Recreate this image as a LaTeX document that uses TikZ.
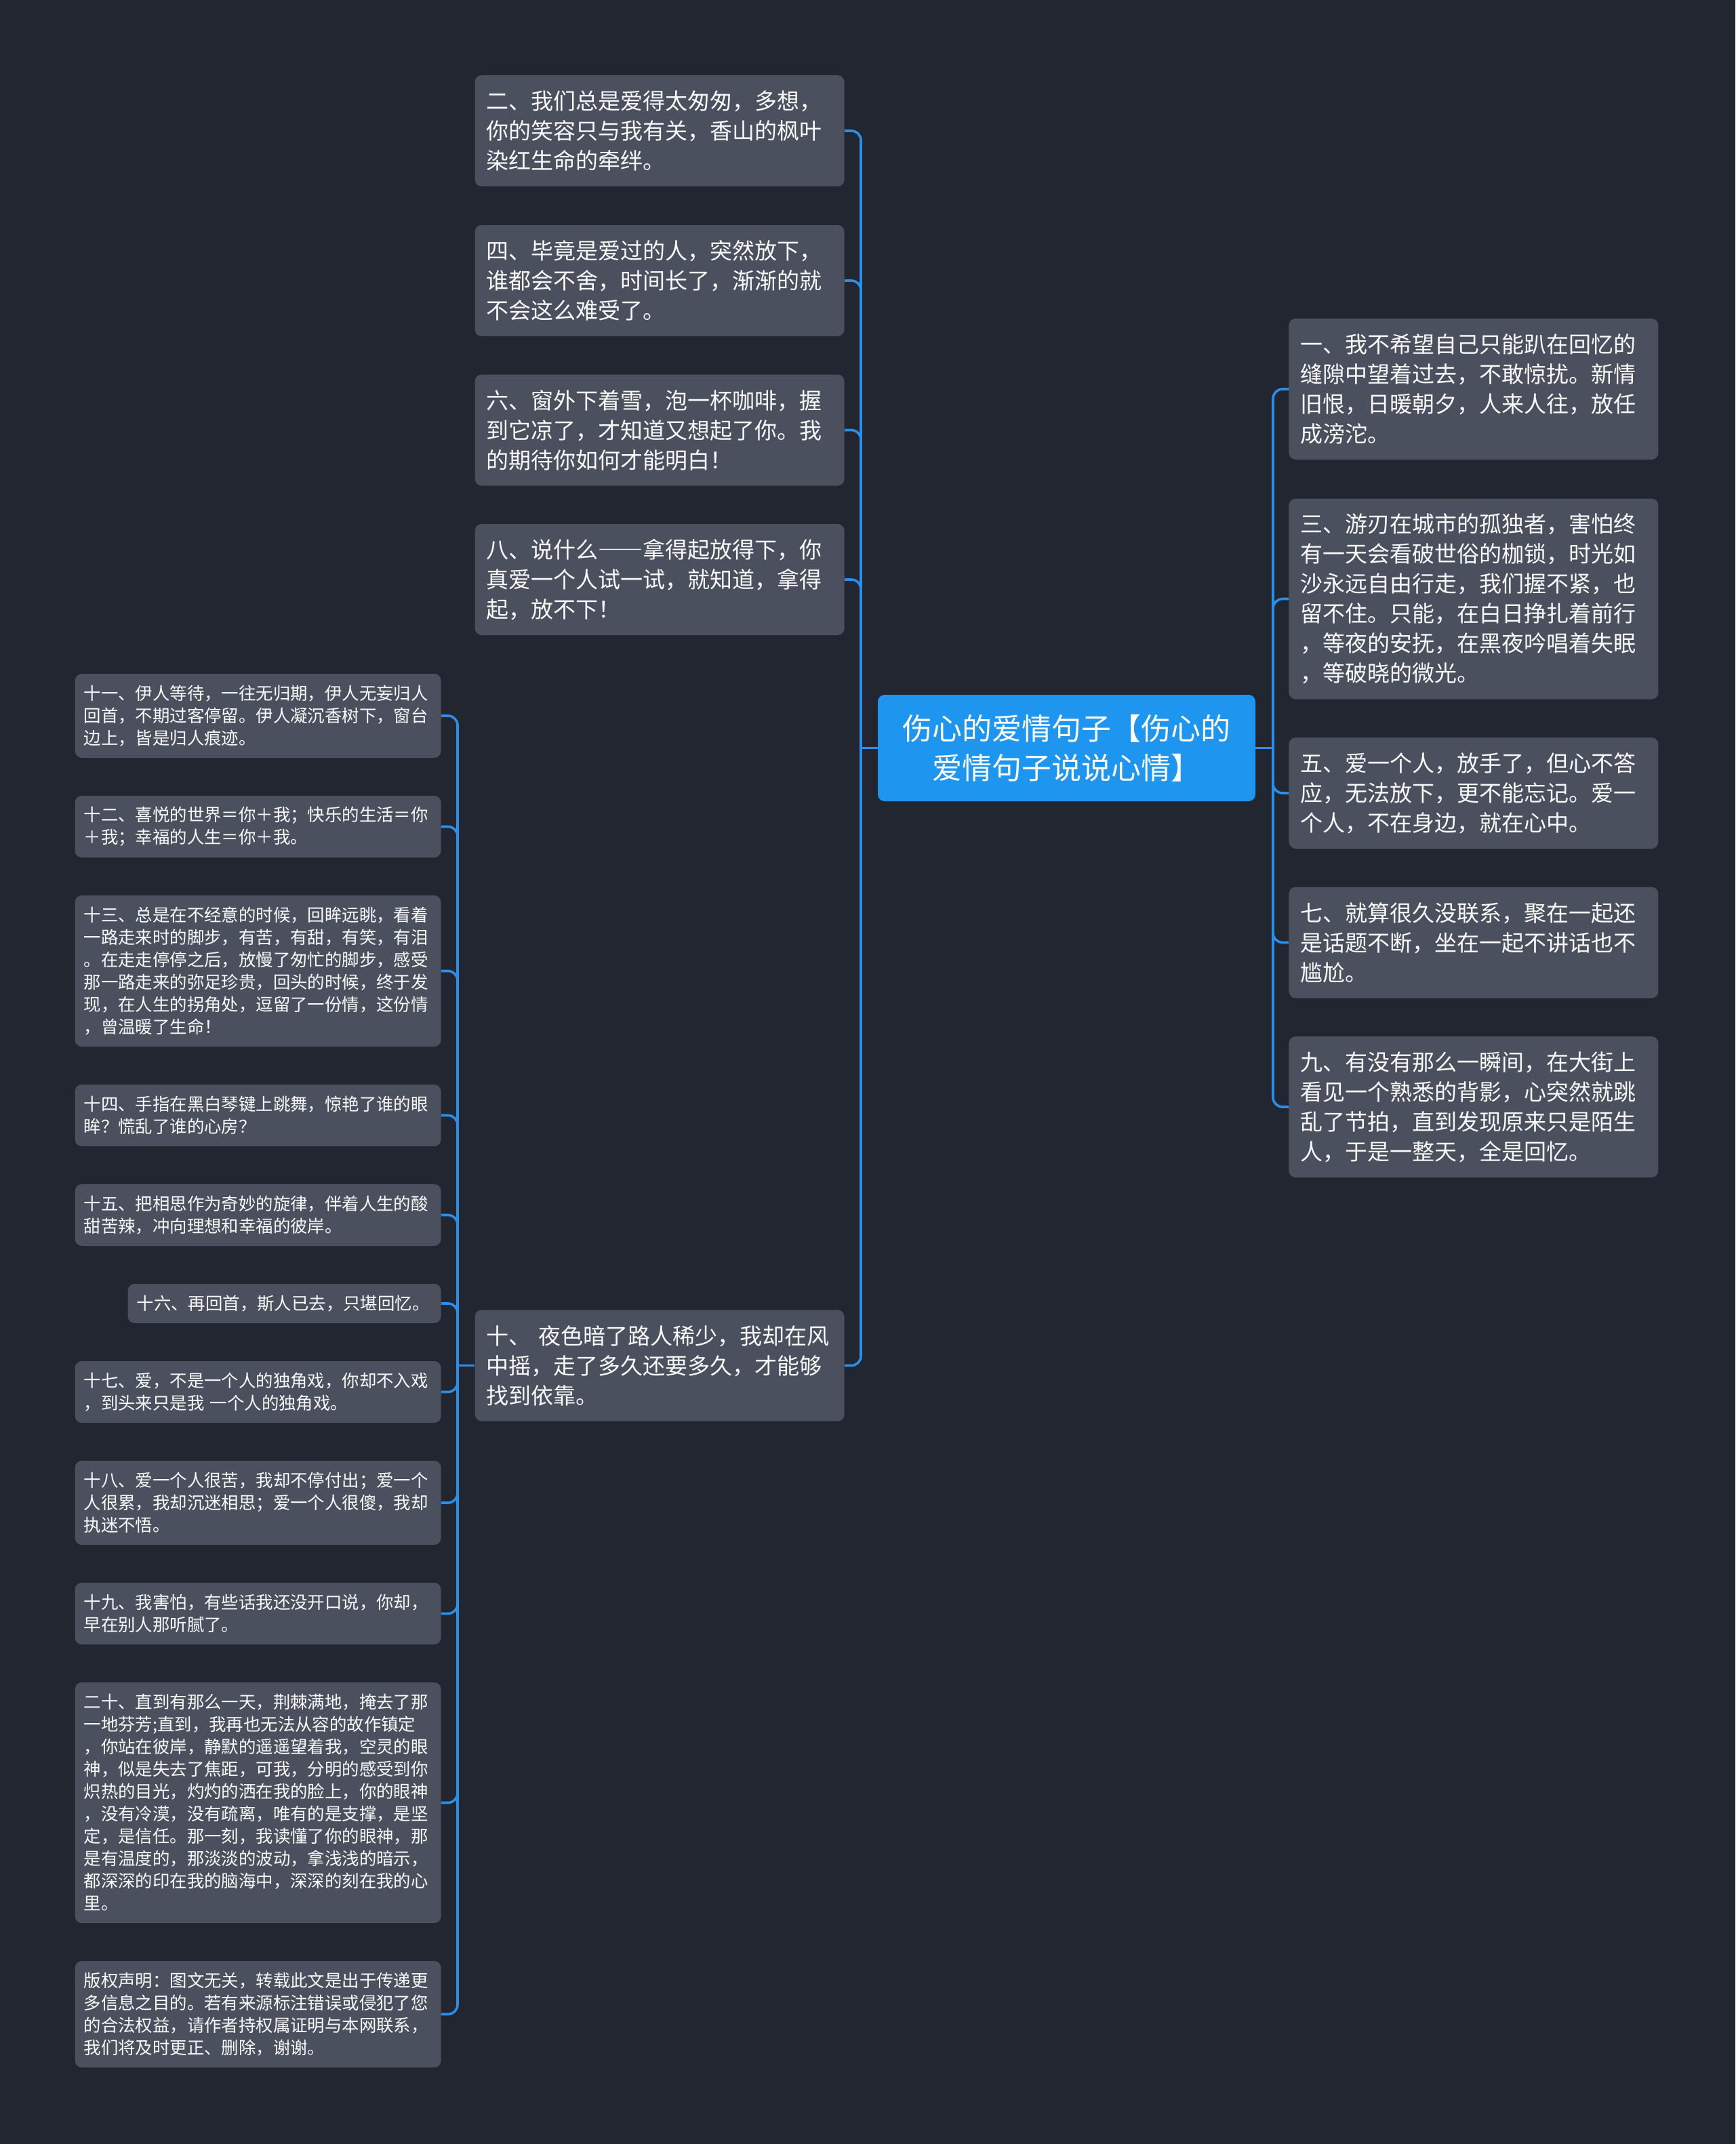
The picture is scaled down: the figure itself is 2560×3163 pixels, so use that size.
\documentclass[tikz,border=0pt]{standalone}
\usepackage{fontspec}
\setmainfont{Noto Sans CJK SC}
\usepackage{xcolor}
\usepackage{tikz}
\definecolor{FondoOscuro}{RGB}{34,38,48}
\definecolor{CajaGris}{RGB}{74,80,93}
\definecolor{AzulRaiz}{RGB}{30,150,240}
\definecolor{AzulLinea}{RGB}{42,143,232}
\definecolor{TextoClaro}{RGB}{250,250,250}
\tikzset{
  rootbox/.style={fill=AzulRaiz,rounded corners=5pt,text=white,align=center,
    minimum width=278.5pt,minimum height=78.5pt,inner sep=0pt,
    font=\fontsize{22pt}{29pt}\selectfont},
  midbox/.style={fill=CajaGris,rounded corners=5pt,text=TextoClaro,align=left,
    text width=255.5pt,inner xsep=8.5pt,inner ysep=0pt,
    minimum height={(38+22*(#1-1))*1pt},
    font=\fontsize{16.5pt}{22pt}\selectfont},
  leafbox/.style={fill=CajaGris,rounded corners=5pt,text=TextoClaro,align=left,
    text width=257pt,inner xsep=6.5pt,inner ysep=0pt,
    minimum height={(29+16.5*(#1-1))*1pt},
    font=\fontsize{12.7pt}{16.5pt}\selectfont},
  link/.style={draw=AzulLinea,line width=1.8pt,rounded corners=7pt},
}
\begin{document}
\begin{tikzpicture}[x=0.5pt,y=-0.5pt]
  \fill[FondoOscuro] (0,0) rectangle (2560,3163);
  \useasboundingbox (0,0) rectangle (2560,3163);

  \node[rootbox] (root) at (1573.5,1103.5) {伤心的爱情句子【伤心的\\爱情句子说说心情】};

  % right side
  \node[midbox=4,anchor=west] (n1) at (1901,574) {一、我不希望自己只能趴在回忆的\\缝隙中望着过去，不敢惊扰。新情\\旧恨，日暖朝夕，人来人往，放任\\成滂沱。};
  \node[midbox=6,anchor=west] (n3) at (1901,883.5) {三、游刃在城市的孤独者，害怕终\\有一天会看破世俗的枷锁，时光如\\沙永远自由行走，我们握不紧，也\\留不住。只能，在白日挣扎着前行\\，等夜的安抚，在黑夜吟唱着失眠\\，等破晓的微光。};
  \node[midbox=3,anchor=west] (n5) at (1901,1170) {五、爱一个人，放手了，但心不答\\应，无法放下，更不能忘记。爱一\\个人，不在身边，就在心中。};
  \node[midbox=3,anchor=west] (n7) at (1901,1390.5) {七、就算很久没联系，聚在一起还\\是话题不断，坐在一起不讲话也不\\尴尬。};
  \node[midbox=4,anchor=west] (n9) at (1901,1633) {九、有没有那么一瞬间，在大街上\\看见一个熟悉的背影，心突然就跳\\乱了节拍，直到发现原来只是陌生\\人，于是一整天，全是回忆。};

  % left side
  \node[midbox=3,anchor=east] (n2) at (1246,193) {二、我们总是爱得太匆匆，多想，\\你的笑容只与我有关，香山的枫叶\\染红生命的牵绊。};
  \node[midbox=3,anchor=east] (n4) at (1246,414) {四、毕竟是爱过的人，突然放下，\\谁都会不舍，时间长了，渐渐的就\\不会这么难受了。};
  \node[midbox=3,anchor=east] (n6) at (1246,634.5) {六、窗外下着雪，泡一杯咖啡，握\\到它凉了，才知道又想起了你。我\\的期待你如何才能明白！};
  \node[midbox=3,anchor=east] (n8) at (1246,855) {八、说什么{\addfontfeature{RawFeature=+fwid}——}拿得起放得下，你\\真爱一个人试一试，就知道，拿得\\起，放不下！};
  \node[midbox=3,anchor=east] (n10) at (1246,2014.5) {十、 夜色暗了路人稀少，我却在风\\中摇，走了多久还要多久，才能够\\找到依靠。};

  \node[leafbox=3,anchor=east] (n11) at (651,1056) {十一、伊人等待，一往无归期，伊人无妄归人\\回首，不期过客停留。伊人凝沉香树下，窗台\\边上，皆是归人痕迹。};
  \node[leafbox=2,anchor=east] (n12) at (651,1219.5) {十二、喜悦的世界＝你＋我；快乐的生活＝你\\＋我；幸福的人生＝你＋我。};
  \node[leafbox=6,anchor=east] (n13) at (651,1432.5) {十三、总是在不经意的时候，回眸远眺，看着\\一路走来时的脚步，有苦，有甜，有笑，有泪\\。在走走停停之后，放慢了匆忙的脚步，感受\\那一路走来的弥足珍贵，回头的时候，终于发\\现，在人生的拐角处，逗留了一份情，这份情\\，曾温暖了生命！};
  \node[leafbox=2,anchor=east] (n14) at (651,1645.5) {十四、手指在黑白琴键上跳舞，惊艳了谁的眼\\眸？慌乱了谁的心房？};
  \node[leafbox=2,anchor=east] (n15) at (651,1792.5) {十五、把相思作为奇妙的旋律，伴着人生的酸\\甜苦辣，冲向理想和幸福的彼岸。};
  \node[leafbox=1,anchor=east,text width=218pt] (n16) at (651,1923) {十六、再回首，斯人已去，只堪回忆。};
  \node[leafbox=2,anchor=east] (n17) at (651,2053.5) {十七、爱，不是一个人的独角戏，你却不入戏\\，到头来只是我 一个人的独角戏。};
  \node[leafbox=3,anchor=east] (n18) at (651,2217) {十八、爱一个人很苦，我却不停付出；爱一个\\人很累，我却沉迷相思；爱一个人很傻，我却\\执迷不悟。};
  \node[leafbox=2,anchor=east] (n19) at (651,2380.5) {十九、我害怕，有些话我还没开口说，你却，\\早在别人那听腻了。};
  \node[leafbox=10,anchor=east] (n20) at (651,2659.5) {二十、直到有那么一天，荆棘满地，掩去了那\\一地芬芳;直到，我再也无法从容的故作镇定\\，你站在彼岸，静默的遥遥望着我，空灵的眼\\神，似是失去了焦距，可我，分明的感受到你\\炽热的目光，灼灼的洒在我的脸上，你的眼神\\，没有冷漠，没有疏离，唯有的是支撑，是坚\\定，是信任。那一刻，我读懂了你的眼神，那\\是有温度的，那淡淡的波动，拿浅浅的暗示，\\都深深的印在我的脑海中，深深的刻在我的心\\里。};
  \node[leafbox=4,anchor=east] (n21) at (651,2971.5) {版权声明：图文无关，转载此文是出于传递更\\多信息之目的。若有来源标注错误或侵犯了您\\的合法权益，请作者持权属证明与本网联系，\\我们将及时更正、删除，谢谢。};

  \coordinate (lj) at (1270,1103.5);
  \coordinate (rj) at (1878,1103.5);
  \coordinate (fj) at (675,2014.5);

  \draw[link] (root.west) -- (lj);
  \foreach \n in {n2,n4,n6,n8,n10}
    \draw[link] (lj) |- (\n.east);
  \draw[link] (root.east) -- (rj);
  \foreach \n in {n1,n3,n5,n7,n9}
    \draw[link] (rj) |- (\n.west);
  \draw[link] (n10.west) -- (fj);
  \foreach \n in {n11,n12,n13,n14,n15,n16,n17,n18,n19,n20,n21}
    \draw[link] (fj) |- (\n.east);
\end{tikzpicture}
\end{document}
